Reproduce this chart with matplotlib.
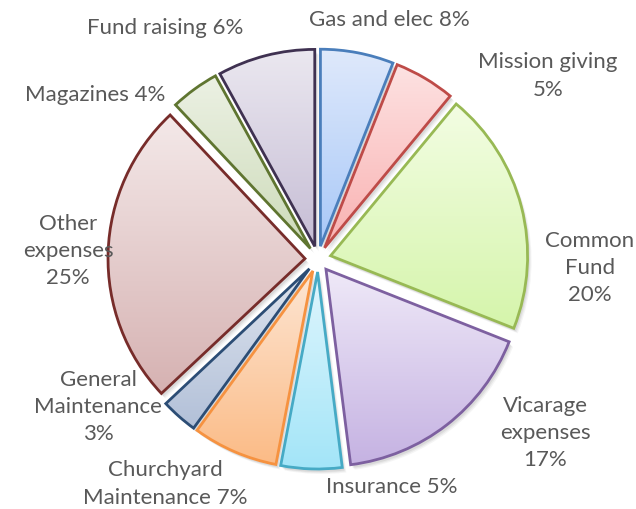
import numpy as np
import matplotlib
matplotlib.use("Agg")
import matplotlib.pyplot as plt
from matplotlib.colors import LinearSegmentedColormap

# ---- data (clockwise from 12 o'clock) ----
categories = ["Gas and elec", "Mission giving", "Common Fund", "Vicarage expenses",
              "Insurance", "Churchyard Maintenance", "General Maintenance",
              "Other expenses", "Magazines", "Fund raising"]
shares = [6, 5, 20, 17, 5, 7, 3, 25, 4, 8]
label_texts = ["Gas and elec 8%", "Mission giving\n5%", "Common\nFund\n20%",
               "Vicarage\nexpenses\n17%", "Insurance 5%", "Churchyard\nMaintenance 7%",
               "General\nMaintenance\n3%", "Other\nexpenses\n25%", "Magazines 4%",
               "Fund raising 6%"]

# ---- styling ----
edge_colors = ["#4a7ebb", "#be4b48", "#98b954", "#7d60a0", "#46aac5", "#f69240",
               "#2c4d75", "#772c2a", "#5f7530", "#3f3151"]
top_colors = ["#dfe9fb", "#fde2e2", "#f3fde3", "#efe9f8", "#e0f6fd", "#fde6d4",
              "#dfe5ef", "#f4e9e9", "#ecf1e4", "#ebe8f0"]
bottom_colors = ["#a8c8f8", "#f9b1b1", "#d5f5ab", "#c5b2e2", "#a3e5f8", "#fbbb86",
                 "#b2c0d8", "#d6b2b2", "#cddbb9", "#c6bdd5"]
label_pos = [(389, 20), (548, 76), (590, 268), (545, 433), (392, 487), (165, 484),
             (98, 407), (68, 251), (95, 95), (165, 28)]

W, H = 636, 509
fig = plt.figure(figsize=(W / 100, H / 100), dpi=100)
ax = fig.add_axes([0, 0, 1, 1])

cx, cy = 318, H - 259
R = 197
explode = [13] * len(shares)

wedges, _ = ax.pie(shares, radius=R, center=(cx, cy), startangle=90,
                   counterclock=False, explode=explode,
                   wedgeprops=dict(facecolor="none", linewidth=0))

for i, w in enumerate(wedges):
    # soft shadow
    for dx, dy, a in [(4, -5, 0.06), (3, -4, 0.08), (2, -3, 0.10)]:
        sh = matplotlib.patches.Wedge((w.center[0] + dx, w.center[1] + dy), w.r,
                                      w.theta1, w.theta2, facecolor="#555555",
                                      edgecolor="none", alpha=a, zorder=1)
        ax.add_patch(sh)
    # gradient fill
    ext = w.get_path().get_extents()
    cmap = LinearSegmentedColormap.from_list("g%d" % i, [bottom_colors[i], top_colors[i]])
    grad = np.linspace(0, 1, 256).reshape(-1, 1)
    im = ax.imshow(grad, extent=[ext.x0, ext.x1, ext.y0, ext.y1], origin="lower",
                   cmap=cmap, aspect="auto", interpolation="bilinear", zorder=2)
    im.set_clip_path(w)
    w.set_edgecolor(edge_colors[i])
    w.set_linewidth(2.0)
    w.set_zorder(3)
    w.set_joinstyle("miter")

for txt, (x, y) in zip(label_texts, label_pos):
    ax.text(x, H - y, txt, ha="center", va="center", multialignment="center",
            fontsize=16, family="Lato", color="#595959", linespacing=1.45, zorder=5)

ax.set_xlim(0, W)
ax.set_ylim(0, H)
ax.set_aspect("auto")
ax.axis("off")
fig.savefig("out.png", dpi=100, facecolor="white")
